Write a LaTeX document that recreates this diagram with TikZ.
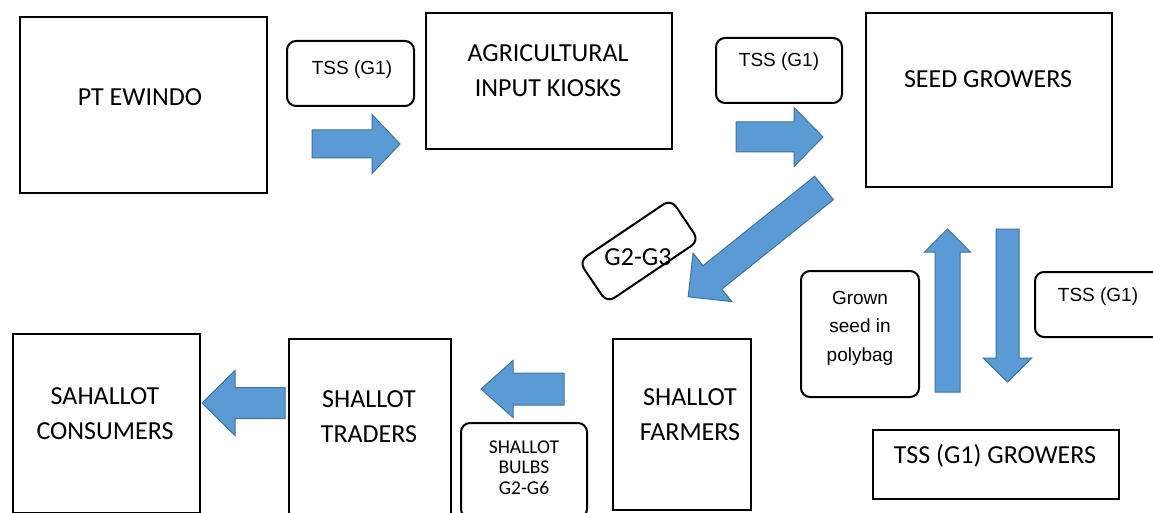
\documentclass[tikz,border=0pt]{standalone}
\usepackage{fontspec}
\setmainfont{Carlito}
\newfontfamily\arialf{Liberation Sans}
\definecolor{arrowblue}{HTML}{5B9BD5}
\definecolor{arrowedge}{HTML}{41719C}
\newcommand\blockarr[7]{%
  \begin{scope}[shift={(#1,#2)}, rotate=#3]
    \draw[barrowstyle] (0,#5/2) -- ({#4-#7},#5/2) -- ({#4-#7},#6/2) -- (#4,0)
      -- ({#4-#7},-#6/2) -- ({#4-#7},-#5/2) -- (0,-#5/2) -- cycle;
  \end{scope}}
\begin{document}
\begin{tikzpicture}[x=1pt,y=-1pt,
  box/.style={draw=black, line width=2pt, inner sep=0pt, anchor=north west},
  rbox/.style={draw=black, line width=2pt, inner sep=0pt, rounded corners=9pt},
  calib/.style={font=\fontsize{26}{35}\selectfont, align=center, inner sep=0pt},
  smallcal/.style={font=\fontsize{19.5}{20.5}\selectfont, align=center, inner sep=0pt},
  arialtxt/.style={font=\arialf\fontsize{19}{28.5}\selectfont, align=center, inner sep=0pt},
  barrowstyle/.style={fill=arrowblue, draw=arrowedge, line width=1pt, line join=miter}]
\useasboundingbox (0,0) rectangle (1153,513);
\clip (0,0) rectangle (1153,513);
\fill[white] (0,0) rectangle (1153,513);

% main boxes
\node[box, minimum width=247pt, minimum height=176pt] (pt) at (19,16) {};
\node[calib] (ptt) at (140,97) {PT EWINDO};

\node[box, minimum width=246pt, minimum height=136pt] (agri) at (425,12) {};
\node[calib] (agrit) at (548,70.5) {AGRICULTURAL\\INPUT KIOSKS};

\node[box, minimum width=246pt, minimum height=174pt] (seed) at (865,12) {};
\node[calib] (seedt) at (988,79) {SEED GROWERS};

\node[box, minimum width=246pt, minimum height=69pt] (tssg) at (872,429) {};
\node[calib] (tssgt) at (995,456) {TSS (G1) GROWERS};

\node[box, minimum width=138pt, minimum height=171pt] (farm) at (612,338) {};
\node[calib] (farmt) at (690,414.5) {SHALLOT\\FARMERS};

\node[box, minimum width=162pt, minimum height=200pt] (trad) at (288,338) {};
\node[calib] (tradt) at (369,417) {SHALLOT\\TRADERS};

\node[box, minimum width=187pt, minimum height=179pt] (cons) at (12,333) {};
\node[calib] (const) at (105,414) {SAHALLOT\\CONSUMERS};

% rounded label boxes
\node[rbox, minimum width=127pt, minimum height=65pt] (tss1) at (350.5,73.5) {};
\node[arialtxt] (tss1t) at (352,70) {TSS (G1)};

\node[rbox, minimum width=126pt, minimum height=65pt] (tss2) at (779,70.5) {};
\node[arialtxt] (tss2t) at (779,62) {TSS (G1)};

\node[rbox, minimum width=135pt, minimum height=65pt] (tss3) at (1102.5,304.5) {};
\node[arialtxt] (tss3t) at (1098,297) {TSS (G1)};

\node[rbox, minimum width=118pt, minimum height=126pt] (grown) at (860,334) {};
\node[arialtxt] (grownt) at (860,328) {Grown\\seed in\\polybag};

\node[rbox, minimum width=126pt, minimum height=95pt] (bulbs) at (524,470.5) {};
\node[smallcal] (bulbst) at (524,467.5) {SHALLOT\\BULBS\\G2-G6};

\node[rbox, minimum width=111pt, minimum height=50pt, rotate=34] (g23) at (639,251) {};
\node[calib] (g23t) at (638,257) {G2-G3};

% block arrows
\blockarr{312}{144}{0}{88}{28}{59}{28}
\blockarr{736}{137}{0}{87}{30}{59}{29}
\blockarr{824}{188}{-141.3}{174}{30}{62}{31}
\blockarr{947.5}{392}{90}{163}{25}{46}{23}
\blockarr{1007.5}{229}{-90}{153}{23}{49}{24}
\blockarr{564}{389}{180}{83}{32}{57}{32}
\blockarr{285}{403}{180}{83}{31}{65}{33}
\end{tikzpicture}
\end{document}
